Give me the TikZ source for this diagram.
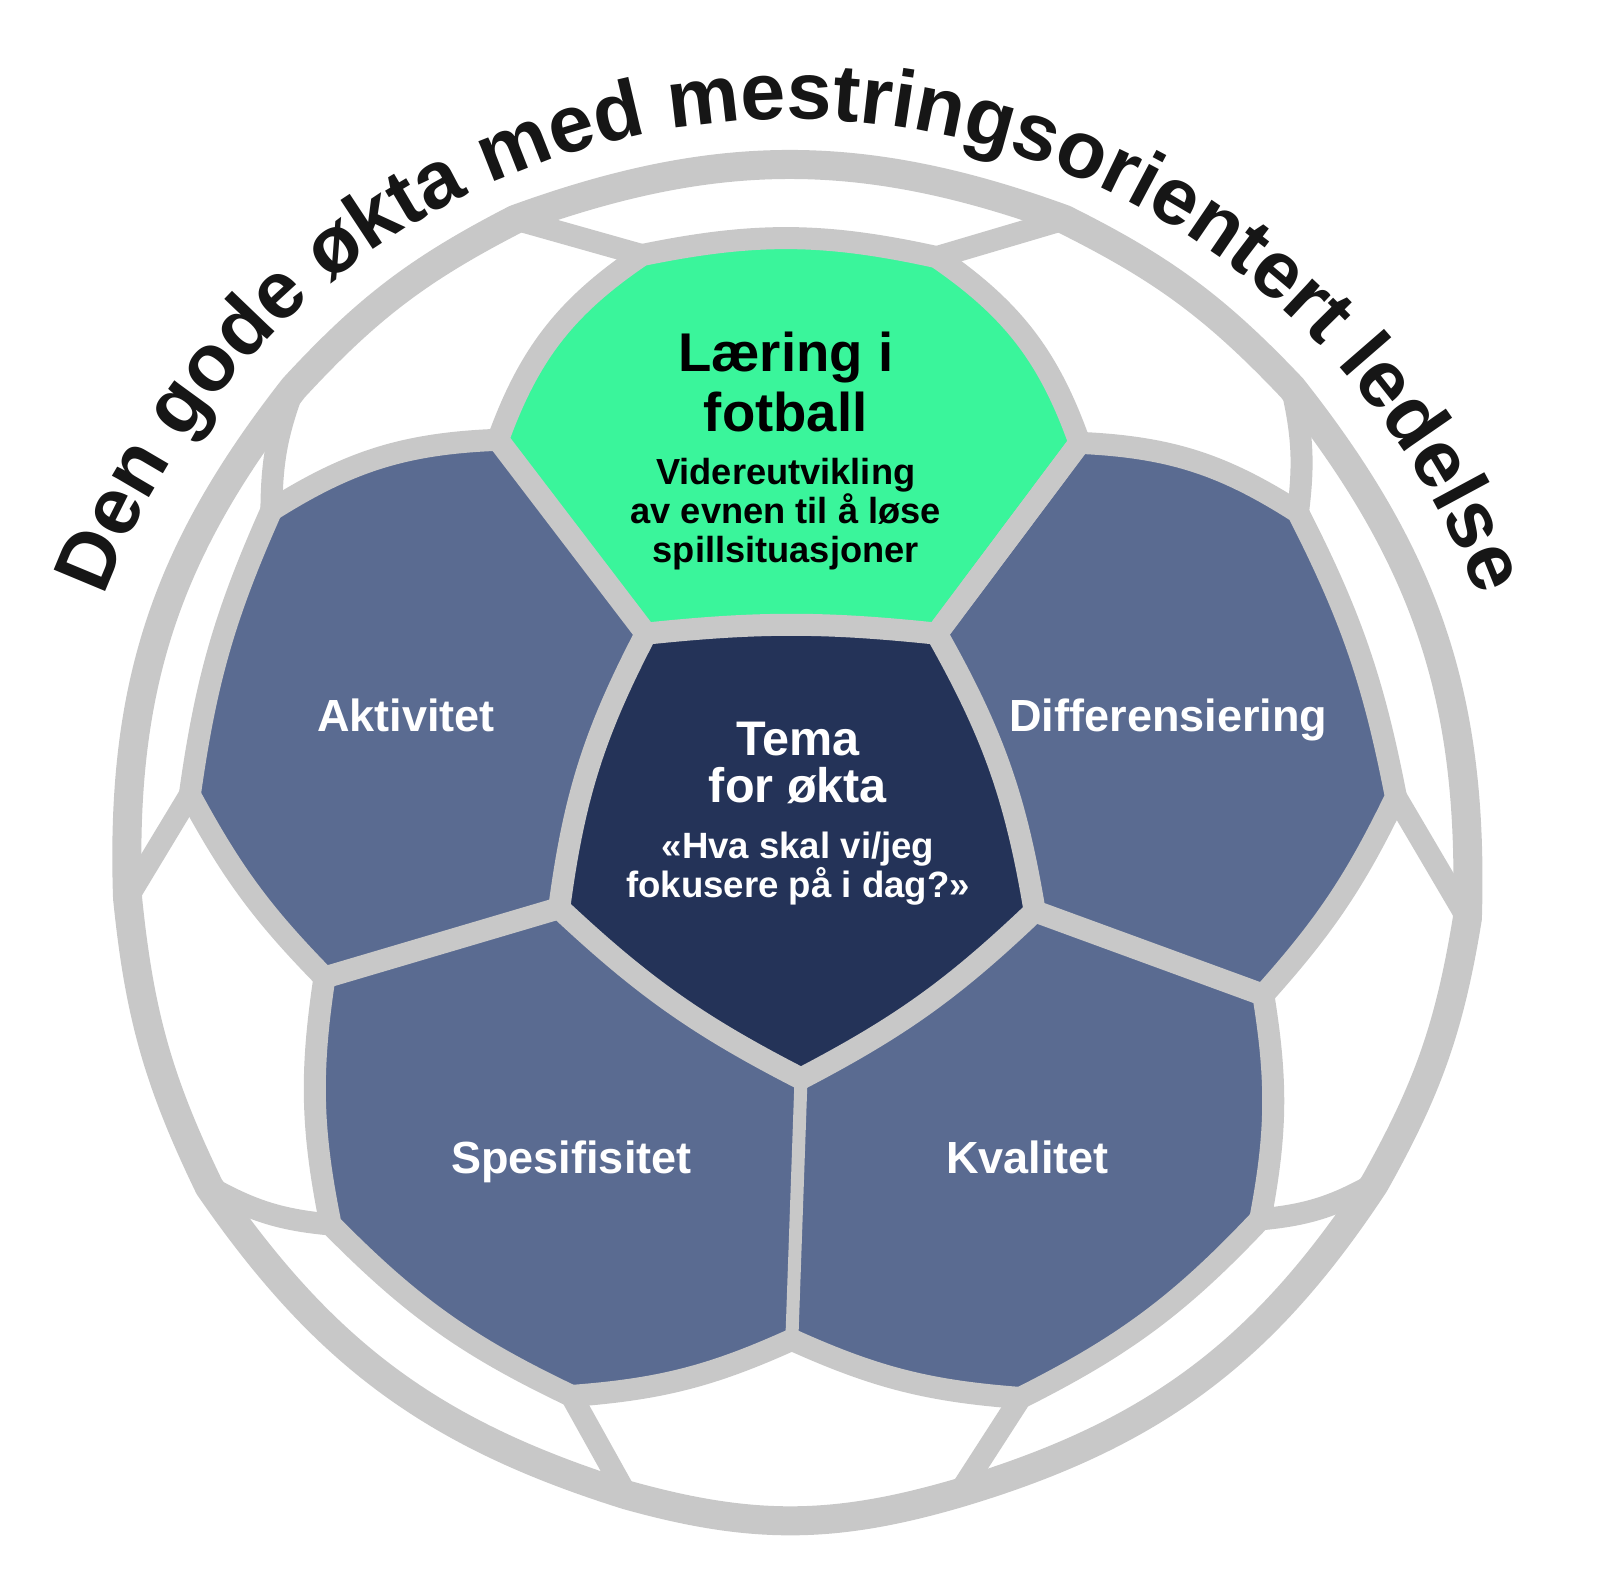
\documentclass[tikz,border=0pt]{standalone}
\usepackage{fontspec}
\setmainfont{Liberation Sans}
\usetikzlibrary{decorations.text}
\definecolor{seamgray}{HTML}{C8C8C8}
\definecolor{navyfill}{HTML}{243358}
\definecolor{slatefill}{HTML}{5A6B91}
\definecolor{mintfill}{HTML}{3AF59B}
\definecolor{titleink}{HTML}{161616}
\begin{document}
\begin{tikzpicture}[x=0.0102cm,y=0.0102cm,
  seamline/.style={draw=seamgray, line width=0.22cm, line cap=round, line join=round},
  thinseam/.style={draw=seamgray, line width=0.13cm, line cap=round},
  rimline/.style={draw=seamgray, line width=0.29cm, line join=round},
  headtext/.style={anchor=base, inner sep=0pt, text=black, font=\bfseries\fontsize{15.5}{18}\selectfont},
  subtext/.style={anchor=base, inner sep=0pt, text=black, font=\bfseries\fontsize{10.3}{12}\selectfont},
  temahead/.style={anchor=base, inner sep=0pt, text=white, font=\bfseries\fontsize{13.8}{16}\selectfont},
  temasub/.style={anchor=base, inner sep=0pt, text=white, font=\bfseries\fontsize{10.4}{12}\selectfont},
  patchlabel/.style={anchor=base, inner sep=0pt, text=white, font=\bfseries\fontsize{12.8}{15}\selectfont},
]
\useasboundingbox (0,0) rectangle (1568,-1560);

% pentagon (centre)
\coordinate (P1) at (633,-621);
\coordinate (P2) at (918,-621);
\coordinate (P3) at (1014,-893);
\coordinate (P4) at (785,-1057);
\coordinate (P5) at (548,-890);
% green hexagon
\coordinate (G1) at (629,-250);
\coordinate (G2) at (918,-252);
\coordinate (G3) at (1058,-434);
\coordinate (G6) at (488,-431);
% left hexagon
\coordinate (A4) at (318,-958);
\coordinate (A5) at (186,-779);
\coordinate (A6) at (266,-500);
% right hexagon
\coordinate (D2) at (1272,-502);
\coordinate (D3) at (1368,-781);
\coordinate (D4) at (1238,-975);
% lower hexagons
\coordinate (S4) at (776,-1313);
\coordinate (S5) at (560,-1368);
\coordinate (S6) at (324,-1200);
\coordinate (K4) at (1235,-1195);
\coordinate (K5) at (1000,-1370);
% rim junctions
\coordinate (J1) at (1043,-215);
\coordinate (J2) at (505,-215);
\coordinate (J3) at (288,-380);
\coordinate (J4) at (125,-880);
\coordinate (J5) at (205,-1163);
\coordinate (J6) at (614,-1465);
\coordinate (J7) at (940,-1463);
\coordinate (J8) at (1347,-1160);
\coordinate (J9) at (1438,-900);
\coordinate (J10) at (1266,-380);

% fills
\fill[navyfill] (P1) to[bend left=6] (P2) to[bend left=10] (P3) to[bend left=8] (P4) to[bend left=8] (P5) to[bend left=10] (P1) -- cycle;
\fill[mintfill] (G6) to[bend left=18] (G1) to[bend left=12] (G2) to[bend left=18] (G3) -- (P2) to[bend right=6] (P1) -- cycle;
\fill[slatefill] (A6) to[bend left=15] (G6) -- (P1) to[bend right=10] (P5) -- (A4) to[bend left=8] (A5) to[bend left=8] (A6) -- cycle;
\fill[slatefill] (G3) to[bend left=15] (D2) to[bend left=8] (D3) to[bend left=8] (D4) -- (P3) to[bend right=10] (P2) -- cycle;
\fill[slatefill] (A4) -- (P5) to[bend right=8] (P4) -- (S4) to[bend left=10] (S5) to[bend left=10] (S6) to[bend left=10] (A4) -- cycle;
\fill[slatefill] (P4) to[bend right=8] (P3) -- (D4) to[bend left=10] (K4) to[bend left=10] (K5) to[bend left=10] (S4) -- cycle;

% seams
\draw[seamline] (P1) to[bend left=6] (P2) to[bend left=10] (P3) to[bend left=8] (P4) to[bend left=8] (P5) to[bend left=10] (P1) -- cycle;
\draw[seamline] (G6) to[bend left=18] (G1) to[bend left=12] (G2) to[bend left=18] (G3) -- (P2);
\draw[seamline] (P1) -- (G6);
\draw[seamline] (A6) to[bend left=15] (G6);
\draw[seamline] (P5) -- (A4) to[bend left=8] (A5) to[bend left=8] (A6);
\draw[seamline] (G3) to[bend left=15] (D2) to[bend left=8] (D3) to[bend left=8] (D4) -- (P3);
\draw[seamline] (P2) -- (G3);
\draw[seamline] (S4) to[bend left=10] (S5) to[bend left=10] (S6) to[bend left=10] (A4);
\draw[seamline] (D4) to[bend left=10] (K4) to[bend left=10] (K5) to[bend left=10] (S4);
\draw[thinseam] (P4) -- (S4);
\draw[seamline] (G1) -- (J2);
\draw[seamline] (G2) -- (J1);
\draw[seamline] (A6) to[bend left=10] (J3);
\draw[seamline] (A5) -- (J4);
\draw[seamline] (S6) to[bend left=12] (J5);
\draw[seamline] (S5) -- (J6);
\draw[seamline] (K5) -- (J7);
\draw[seamline] (K4) to[bend right=12] (J8);
\draw[seamline] (D3) -- (J9);
\draw[seamline] (D2) to[bend right=10] (J10);

% outer rim
\draw[rimline] (J2) to[bend left=20] (J1) to[bend left=10] (J10) to[bend left=20] (J9) to[bend left=10] (J8) to[bend left=20] (J7) to[bend left=16] (J6) to[bend left=19] (J5) to[bend left=10] (J4) to[bend left=20] (J3) to[bend left=10] (J2) -- cycle;

% title along arc
\coordinate (TC) at (775,-835);
\path[decorate, decoration={text along path, text align=center, text color=titleink,
  text={|\fontsize{23}{28}\selectfont\bfseries|Den gode økta med mestringsorientert ledelse}}]
  (TC) ++(172:718) arc[start angle=172, end angle=8, radius=718];

% texts
\node[headtext] (l1) at (770,-364.5) {Læring i};
\node[headtext] (l2) at (770,-423) {fotball};
\node[subtext] (l3) at (770,-475) {Videreutvikling};
\node[subtext] (l4) at (770,-513.5) {av evnen til å løse};
\node[subtext] (l5) at (770,-551) {spillsituasjoner};

\node[temahead] (t1) at (782,-740) {Tema};
\node[temahead] (t2) at (782,-786) {for økta};
\node[temasub] (q1) at (782,-841) {«Hva skal vi/jeg};
\node[temasub] (q2) at (782,-880) {fokusere på i dag?»};

\node[patchlabel] (akt) at (398,-717) {Aktivitet};
\node[patchlabel] (dif) at (1145,-717) {Differensiering};
\node[patchlabel] (spe) at (560,-1150) {Spesifisitet};
\node[patchlabel] (kva) at (1007,-1150) {Kvalitet};
\end{tikzpicture}
\end{document}
